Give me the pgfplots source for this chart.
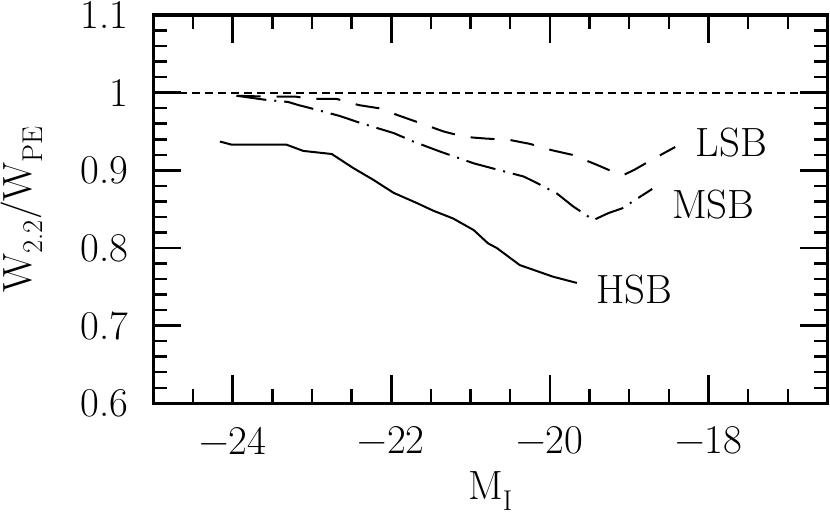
\documentclass[border=0pt]{standalone}
\usepackage{pgfplots}
\pgfplotsset{compat=1.18}
\newcommand\bigf{\fontsize{41}{48}\selectfont}
\begin{document}
\begin{tikzpicture}
\begin{axis}[name=ax, scale only axis, width=674.2bp, height=388.3bp,
 xmin=-25, xmax=-16.5, ymin=0.6, ymax=1.1,
 xtick={-24,-22,-20,-18}, ytick={0.6,0.7,0.8,0.9,1.0,1.1},
 xticklabels={−24,−22,−20,−18}, yticklabels={0.6,0.7,0.8,0.9,1,1.1},
 minor x tick num=3, minor y tick num=4,
 major tick length=28bp, minor tick length=14bp,
 axis line style={line width=3.5bp},
 tick label style={font=\bigf, inner sep=0pt},
 xticklabel style={anchor=north, yshift=-23.4bp},
 yticklabel style={anchor=east, xshift=-25bp},
 every axis x label/.style={at={(axis description cs:0.5,-0.176)}, anchor=north, inner sep=0pt, font=\bigf},
 every axis y label/.style={at={(axis description cs:-0.1636,0.5)}, rotate=90, anchor=south, inner sep=0pt, font=\bigf},
 xlabel={M\textsubscript{I}},
 ylabel={W\textsubscript{2.2}/W\textsubscript{PE}},
]
% tick marks on all four sides
\pgfplotsinvokeforeach{-24,-22,-20,-18}{
  \draw[black, line width=2.5bp] (axis cs:#1,0.6) -- (axis cs:#1,0.636);
  \draw[black, line width=2.5bp] (axis cs:#1,1.1) -- (axis cs:#1,1.064);
}
\pgfplotsinvokeforeach{-24.5,-23.5,-23,-22.5,-21.5,-21,-20.5,-19.5,-19,-18.5,-17.5,-17}{
  \draw[black, line width=2.5bp] (axis cs:#1,0.6) -- (axis cs:#1,0.618);
  \draw[black, line width=2.5bp] (axis cs:#1,1.1) -- (axis cs:#1,1.082);
}
\pgfplotsinvokeforeach{0.7,0.8,0.9,1.0}{
  \draw[black, line width=2.5bp] (axis cs:-25,#1) -- (axis cs:-24.647,#1);
  \draw[black, line width=2.5bp] (axis cs:-16.5,#1) -- (axis cs:-16.853,#1);
}
\pgfplotsinvokeforeach{0.62,0.64,0.66,0.68,0.72,0.74,0.76,0.78,0.82,0.84,0.86,0.88,0.92,0.94,0.96,0.98,1.02,1.04,1.06,1.08}{
  \draw[black, line width=2.5bp] (axis cs:-25,#1) -- (axis cs:-24.8235,#1);
  \draw[black, line width=2.5bp] (axis cs:-16.5,#1) -- (axis cs:-16.6765,#1);
}
\addplot[black, line width=2bp, dash pattern=on 8bp off 5bp] coordinates {(-25,1) (-16.5,1)};
\addplot[black, line width=2bp] coordinates {(-24.16,0.937) (-24.01,0.933) (-23.32,0.933) (-23.11,0.925) (-22.75,0.921) (-22.48,0.903) (-22.23,0.888) (-21.97,0.871) (-21.68,0.858) (-21.47,0.848) (-21.22,0.838) (-20.96,0.823) (-20.78,0.806) (-20.67,0.800) (-20.38,0.778) (-19.96,0.763) (-19.66,0.755)};
\addplot[black, line width=2bp, dash pattern=on 30bp off 8bp on 2bp off 8bp] coordinates {(-23.95,0.996) (-23.6,0.991) (-23.3,0.988) (-23.17,0.984) (-22.94,0.978) (-22.65,0.970) (-22.39,0.961) (-21.97,0.948) (-21.72,0.937) (-21.38,0.924) (-20.96,0.909) (-20.63,0.900) (-20.33,0.892) (-20.17,0.884) (-19.91,0.870) (-19.70,0.853) (-19.45,0.836) (-19.26,0.845) (-19.09,0.851) (-18.71,0.876)};
\addplot[black, line width=2bp, dash pattern=on 24bp off 16bp] coordinates {(-23.95,0.996) (-23.59,0.995) (-23.21,0.995) (-23.02,0.992) (-22.69,0.992) (-22.41,0.984) (-22.16,0.980) (-21.89,0.970) (-21.64,0.961) (-21.34,0.950) (-21.07,0.943) (-20.82,0.941) (-20.50,0.939) (-20.25,0.934) (-19.98,0.926) (-19.72,0.920) (-19.43,0.908) (-19.20,0.898) (-19.07,0.894) (-18.93,0.901) (-18.69,0.915) (-18.42,0.930)};
\node[font=\bigf] at (axis cs:-17.71,0.9358) {LSB};
\node[font=\bigf] at (axis cs:-17.94,0.856) {MSB};
\node[font=\bigf] at (axis cs:-18.94,0.746) {HSB};
\end{axis}
\pgfresetboundingbox
\path ([shift={(-153.3bp,-111.7bp)}]ax.south west) rectangle ([shift={(2.5bp,15bp)}]ax.north east);
\end{tikzpicture}
\end{document}
